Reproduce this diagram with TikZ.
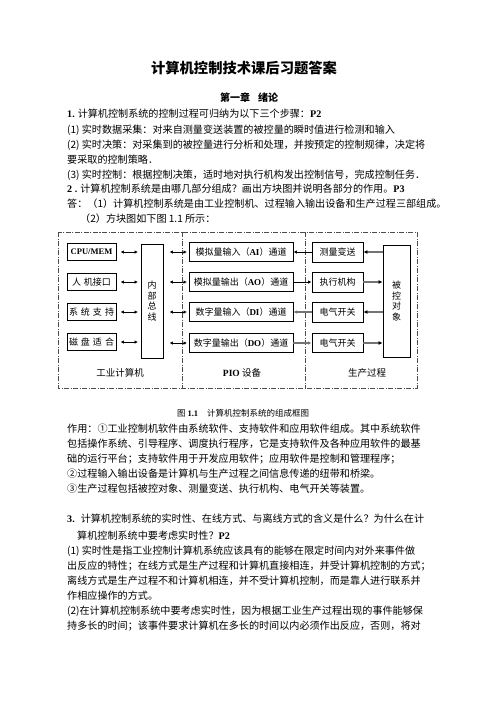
\documentclass[tikz,border=0pt]{standalone}
\usepackage{fontspec}
\setmainfont{Liberation Serif}
\newfontfamily\cjk{Noto Sans CJK SC}
\newfontfamily\lat{Liberation Serif}
\usetikzlibrary{arrows.meta}
\begin{document}
\begin{tikzpicture}[x=1pt,y=-1pt,
  txt/.style={anchor=base west,inner sep=0pt,font=\cjk\fontsize{10.1}{12}\selectfont},
  box/.style={draw,line width=0.9pt,inner sep=0pt,align=center,font=\cjk\fontsize{9}{10.5}\selectfont},
  frame/.style={draw=black!70,line width=0.8pt,dash pattern=on 5pt off 1.5pt on 1pt off 1.5pt},
  dbl/.style={{Latex[length=3.5pt,width=3.5pt]}-{Latex[length=3.5pt,width=3.5pt]},line width=0.9pt},
  arr/.style={-{Latex[length=3.5pt,width=3.5pt]},line width=0.9pt},
  garr/.style={-{Latex[length=4pt,width=4pt,color=black]},line width=1.6pt,draw=black!55},
  lab/.style={inner sep=0pt,font=\cjk\fontsize{9.5}{11}\selectfont}
]
\useasboundingbox[fill=white] (0,0) rectangle (496,702);

% title and text above
\node[inner sep=0pt,font=\cjk\bfseries\fontsize{14.3}{16}\selectfont] (title) at (244,68) {计算机控制技术课后习题答案};
\node[inner sep=0pt,font=\cjk\bfseries\fontsize{10}{12}\selectfont] (chap) at (249,98) {第一章\hspace{8pt}绪论};
\node[txt] (t1) at (67,117) {{\lat\bfseries 1.} 计算机控制系统的控制过程可归纳为以下三个步骤：{\lat\bfseries P2}};
\node[txt] (t2) at (67,133) {(1) 实时数据采集：对来自测量变送装置的被控量的瞬时值进行检测和输入};
\node[txt] (t3) at (67,148) {(2) 实时决策：对采集到的被控量进行分析和处理，并按预定的控制规律，决定将};
\node[txt] (t4) at (67,163) {要采取的控制策略．};
\node[txt] (t5) at (67,178) {(3) 实时控制：根据控制决策，适时地对执行机构发出控制信号，完成控制任务．};
\node[txt] (t6) at (67,192) {{\lat\bfseries 2 .} 计算机控制系统是由哪几部分组成？画出方块图并说明各部分的作用。{\lat\bfseries P3}};
\node[txt] (t7) at (67,207) {答：（1）计算机控制系统是由工业控制机、过程输入输出设备和生产过程三部组成。};
\node[txt] (t8) at (80,222) {（2）方块图如下图 1.1 所示：};

% diagram frame
\draw[frame] (58,232) rectangle (417,388);
\draw[frame] (182,232) -- (182,388);
\draw[frame] (305,232) -- (305,388);

% left section
\node[box,minimum width=49pt,minimum height=17pt] (cpu) at (91.5,252) {{\lat\bfseries\fontsize{8.5}{10}\selectfont CPU/MEM}};
\node[box,minimum width=49pt,minimum height=17pt] (hmi) at (91.5,282) {人\,\,机接口};
\node[box,minimum width=49pt,minimum height=17.5pt] (sup) at (91.5,312) {系\,\,统\,\,支\,\,持};
\node[box,minimum width=49pt,minimum height=17pt] (disk) at (91.5,342) {磁\,\,盘\,\,适\,\,合};
\node[box,minimum width=22pt,minimum height=114pt] (bus) at (152,301) {内\\部\\总\\线};

% PIO section
\node[box,minimum width=104pt,minimum height=19pt] (ai) at (241,252) {模拟量输入（{\lat\bfseries AI}）通道};
\node[box,minimum width=104pt,minimum height=19pt] (ao) at (241,282) {模拟量输出（{\lat\bfseries AO}）通道};
\node[box,minimum width=104pt,minimum height=19pt] (di) at (241,312) {数字量输入（{\lat\bfseries DI}）通道};
\node[box,minimum width=104pt,minimum height=19pt] (dout) at (241,343) {数字量输出（{\lat\bfseries DO}）通道};

% process section
\node[box,minimum width=51pt,minimum height=20pt] (ms) at (337.5,252) {测量变送};
\node[box,minimum width=51pt,minimum height=20pt] (act) at (337.5,282) {执行机构};
\node[box,minimum width=51pt,minimum height=20pt] (sw1) at (337.5,312) {电气开关};
\node[box,minimum width=51pt,minimum height=19pt] (sw2) at (337.5,343) {电气开关};
\node[box,minimum width=27pt,minimum height=112pt] (obj) at (396.5,301) {被\\控\\对\\象};

% section labels
\node[lab] (lab1) at (120,373) {工业计算机};
\node[lab] (lab2) at (242,373) {{\lat\bfseries PIO} 设备};
\node[lab] (lab3) at (367,373) {生产过程};

% connectors
\draw[dbl,shorten <=4pt,shorten >=2.5pt] (cpu.east) -- (cpu.east -| bus.west);
\draw[dbl,shorten <=4pt,shorten >=2.5pt] (hmi.east) -- (hmi.east -| bus.west);
\draw[dbl,shorten <=4pt,shorten >=2.5pt] (sup.east) -- (sup.east -| bus.west);
\draw[dbl,shorten <=4pt,shorten >=2.5pt] (disk.east) -- (disk.east -| bus.west);
\draw[dbl,shorten <=6pt,shorten >=1.5pt] (bus.east |- ai.west) -- (ai.west);
\draw[dbl,shorten <=6pt,shorten >=1.5pt] (bus.east |- ao.west) -- (ao.west);
\draw[dbl,shorten <=6pt,shorten >=1.5pt] (bus.east |- di.west) -- (di.west);
\draw[dbl,shorten <=6pt,shorten >=1.5pt] (bus.east |- dout.west) -- (dout.west);
\draw[arr] (ms.west) -- (ms.west -| ai.east);
\draw[arr] (ao.east) -- (ao.east -| act.west);
\draw[arr,draw=black!55,line width=1.2pt] (sw1.west) -- (sw1.west -| di.east);
\draw[arr,draw=black!55,line width=1.2pt] (dout.east) -- (dout.east -| sw2.west);
\draw[garr] (obj.west |- ms.east) -- (ms.east);
\draw[garr] (act.east) -- (act.east -| obj.west);
\draw[garr] (obj.west |- sw1.east) -- (sw1.east);
\draw[garr] (sw2.east) -- (sw2.east -| obj.west);

% caption and text below
\node[inner sep=0pt,anchor=base west,font=\cjk\fontsize{8.5}{10}\selectfont] (cap) at (177,416) {图 {\lat\bfseries 1.1}\hspace{9pt}计算机控制系统的组成框图};
\node[txt] (t9) at (67,432) {作用：①工业控制机软件由系统软件、支持软件和应用软件组成。其中系统软件};
\node[txt] (t10) at (67,447) {包括操作系统、引导程序、调度执行程序，它是支持软件及各种应用软件的最基};
\node[txt] (t11) at (67,462) {础的运行平台；支持软件用于开发应用软件；应用软件是控制和管理程序；};
\node[txt] (t12) at (67,477) {②过程输入输出设备是计算机与生产过程之间信息传递的纽带和桥梁。};
\node[txt] (t13) at (67,492) {③生产过程包括被控对象、测量变送、执行机构、电气开关等装置。};
\node[txt] (t14) at (67,522) {{\lat\bfseries 3.}\hspace{6pt}计算机控制系统的实时性、在线方式、与离线方式的含义是什么？为什么在计};
\node[txt] (t15) at (77,539) {算机控制系统中要考虑实时性？{\lat\bfseries P2}};
\node[txt] (t16) at (67,554) {(1) 实时性是指工业控制计算机系统应该具有的能够在限定时间内对外来事件做};
\node[txt] (t17) at (67,569) {出反应的特性；在线方式是生产过程和计算机直接相连，并受计算机控制的方式；};
\node[txt] (t18) at (67,584) {离线方式是生产过程不和计算机相连，并不受计算机控制，而是靠人进行联系并};
\node[txt] (t19) at (67,599) {作相应操作的方式。};
\node[txt] (t20) at (67,614) {(2)在计算机控制系统中要考虑实时性，因为根据工业生产过程出现的事件能够保};
\node[txt] (t21) at (67,629) {持多长的时间；该事件要求计算机在多长的时间以内必须作出反应，否则，将对};
\end{tikzpicture}
\end{document}
